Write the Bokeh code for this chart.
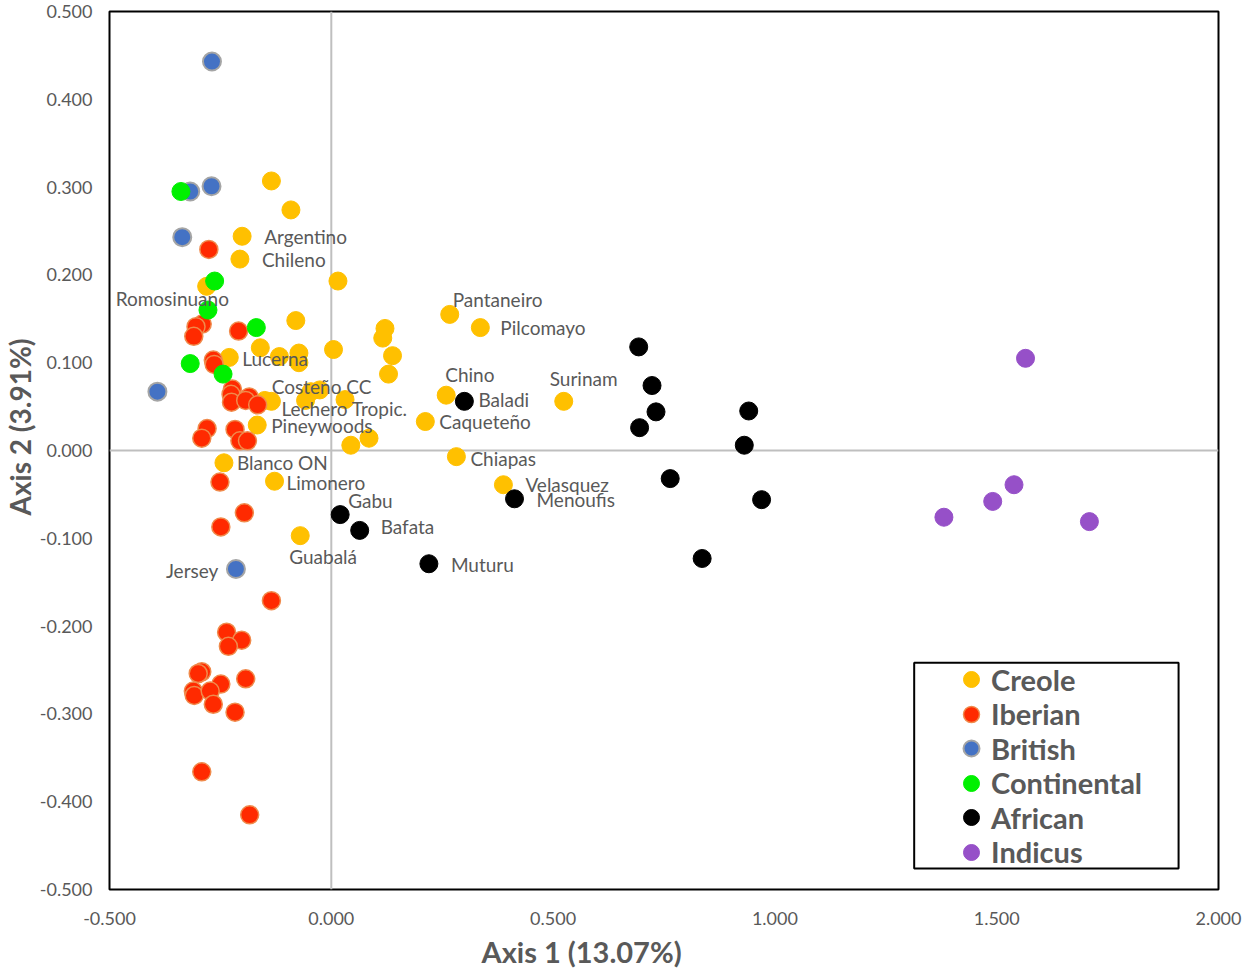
from bokeh.plotting import figure
from bokeh.models import (ColumnDataSource, Span, FixedTicker, PrintfTickFormatter,
                          Legend, LegendItem, BoxAnnotation, Title)
from bokeh.core.properties import value
from bokeh.embed import file_html
from bokeh.resources import INLINE

# ---------------- data ----------------
creole_x = [-0.135, -0.091, -0.201, -0.206, -0.281, 0.015, -0.080, 0.121, 0.116, -0.160,
            -0.117, -0.073, -0.073, 0.005, 0.138, 0.129, -0.230, -0.150, -0.135, -0.058,
            -0.046, -0.026, 0.031, -0.167, 0.085, 0.044, -0.242, -0.128, -0.070, 0.267,
            0.336, 0.259, 0.524, 0.212, 0.282, 0.388]
creole_y = [0.307, 0.274, 0.244, 0.218, 0.187, 0.193, 0.148, 0.139, 0.128, 0.117,
            0.107, 0.111, 0.100, 0.115, 0.108, 0.087, 0.106, 0.057, 0.056, 0.057,
            0.067, 0.069, 0.058, 0.029, 0.014, 0.006, -0.014, -0.035, -0.097, 0.155,
            0.140, 0.063, 0.056, 0.033, -0.007, -0.039]
creole_names = ["", "", "Argentino", "Chileno", "Romosinuano", "", "", "", "", "",
                "", "", "", "", "", "", "Lucerna", "Costeño CC", "Lechero Tropic.", "",
                "", "", "", "Pineywoods", "", "", "Blanco ON", "Limonero", "Guabalá", "Pantaneiro",
                "Pilcomayo", "Chino", "Surinam", "Caqueteño", "Chiapas", "Velasquez"]

iberian_x = [-0.276, -0.291, -0.305, -0.310, -0.209, -0.266, -0.264, -0.223, -0.226, -0.225,
             -0.185, -0.193, -0.166, -0.280, -0.292, -0.217, -0.206, -0.189, -0.251, -0.196,
             -0.249, -0.135, -0.236, -0.202, -0.232, -0.292, -0.300, -0.193, -0.249, -0.311,
             -0.309, -0.273, -0.266, -0.217, -0.292, -0.184]
iberian_y = [0.229, 0.144, 0.141, 0.130, 0.136, 0.103, 0.098, 0.070, 0.064, 0.055,
             0.061, 0.057, 0.052, 0.025, 0.014, 0.024, 0.011, 0.011, -0.036, -0.071,
             -0.087, -0.171, -0.207, -0.216, -0.223, -0.252, -0.254, -0.260, -0.266, -0.274,
             -0.279, -0.274, -0.289, -0.298, -0.366, -0.415]
iberian_names = [""] * len(iberian_x)

british_x = [-0.269, -0.270, -0.318, -0.336, -0.392, -0.215]
british_y = [0.443, 0.301, 0.295, 0.243, 0.067, -0.135]
british_names = ["", "", "", "", "", "Jersey"]

continental_x = [-0.339, -0.263, -0.278, -0.169, -0.318, -0.244]
continental_y = [0.295, 0.193, 0.160, 0.140, 0.099, 0.087]
continental_names = [""] * len(continental_x)

african_x = [0.300, 0.413, 0.020, 0.064, 0.220, 0.693, 0.723, 0.732, 0.695, 0.941,
             0.931, 0.764, 0.970, 0.836]
african_y = [0.056, -0.055, -0.073, -0.091, -0.129, 0.118, 0.074, 0.044, 0.026, 0.045,
             0.006, -0.032, -0.056, -0.123]
african_names = ["Baladi", "Menoufis", "Gabu", "Bafata", "Muturu", "", "", "", "", "",
                 "", "", "", ""]

indicus_x = [1.565, 1.381, 1.491, 1.539, 1.709]
indicus_y = [0.105, -0.076, -0.058, -0.039, -0.081]
indicus_names = [""] * len(indicus_x)

x_ticks = [-0.5, 0.0, 0.5, 1.0, 1.5, 2.0]
y_ticks = [-0.5, -0.4, -0.3, -0.2, -0.1, 0.0, 0.1, 0.2, 0.3, 0.4, 0.5]
x_title = "Axis 1 (13.07%)"
y_title = "Axis 2 (3.91%)"

# ---------------- styles ----------------
series = [
    ("Creole", creole_x, creole_y, creole_names, "#FFC000", "#FFC000", 1),
    ("Iberian", iberian_x, iberian_y, iberian_names, "#FF2A00", "#F08A4B", 1.5),
    ("British", british_x, british_y, british_names, "#4472C4", "#A5A5A5", 2),
    ("Continental", continental_x, continental_y, continental_names, "#00F000", "#00F000", 1),
    ("African", african_x, african_y, african_names, "#000000", "#000000", 1),
    ("Indicus", indicus_x, indicus_y, indicus_names, "#9650C8", "#9650C8", 1),
]

# label offsets in pixels (dx, dy), dy positive = down
label_offsets = {
    "Argentino": (22, 0), "Chileno": (22, 0), "Romosinuano": (-91, 12),
    "Lucerna": (13, 1), "Costeño CC": (7, -14), "Lechero Tropic.": (10, 7),
    "Pineywoods": (14, 0), "Blanco ON": (13, 0), "Limonero": (12, 1),
    "Gabu": (8, -14), "Bafata": (21, -4), "Guabalá": (-11, 21), "Jersey": (-70, 1),
    "Pantaneiro": (3, -15), "Pilcomayo": (20, 0), "Chino": (-1, -21),
    "Baladi": (14, -2), "Surinam": (-14, -23), "Caqueteño": (14, 0),
    "Chiapas": (14, 2), "Velasquez": (22, 0), "Menoufis": (22, 1), "Muturu": (22, 1),
}

GRAY = "#595959"
FONT = "Lato"
W, H = 1242, 973
B_LEFT, B_RIGHT, B_TOP, B_BOTTOM = 103, 24, 11, 82
FRAME_BOTTOM = 890          # measured frame bottom (px from top)
LEGEND_X = 842              # legend glyph box left, px from frame left
LEGEND_CENTERS = [680, 714.5, 749, 783.5, 818, 852.5]   # item centre rows (px from top)
GLYPH_W, GLYPH_H = 40, 42

p = figure(width=W, height=H, x_range=(-0.5, 2.0), y_range=(-0.5, 0.5),
           output_backend="svg", toolbar_location=None,
           min_border_left=B_LEFT, min_border_right=B_RIGHT,
           min_border_top=B_TOP, min_border_bottom=B_BOTTOM)
p.background_fill_color = "white"
p.border_fill_color = "white"
p.outline_line_color = "black"
p.outline_line_width = 2
p.grid.visible = False

for ax, ticks in ((p.xaxis[0], x_ticks), (p.yaxis[0], y_ticks)):
    ax.ticker = FixedTicker(ticks=ticks)
    ax.formatter = PrintfTickFormatter(format="%.3f")
    ax.major_tick_line_color = None
    ax.minor_tick_line_color = None
    ax.axis_line_color = None
    ax.major_label_text_font = FONT
    ax.major_label_text_font_size = "18px"
    ax.major_label_text_color = GRAY

p.xaxis.major_label_standoff = 16
p.yaxis.major_label_standoff = 11

# axis titles (placed as in the reference, not centred on the frame)
title_style = dict(align="left", text_font=FONT, text_font_style="bold", text_color=GRAY)
p.add_layout(Title(text=x_title, offset=372, standoff=9, text_font_size="29px",
                   **title_style), "below")
p.add_layout(Title(text=y_title, offset=374, standoff=0, text_font_size="28px",
                   **title_style), "left")

p.add_layout(Span(location=0, dimension="height", line_color="#BFBFBF", line_width=2, level="underlay"))
p.add_layout(Span(location=0, dimension="width", line_color="#BFBFBF", line_width=2, level="underlay"))

lab_x, lab_y, lab_t, lab_dx, lab_dy = [], [], [], [], []
renderers = []
for name, xs, ys, names, fill, line, lw in series:
    src = ColumnDataSource(dict(x=xs, y=ys))
    r = p.scatter("x", "y", source=src, size=18, marker="circle",
                  fill_color=fill, line_color=line, line_width=lw)
    renderers.append((name, r))
    for xv, yv, nm in zip(xs, ys, names):
        if nm:
            dx, dy = label_offsets[nm]
            lab_x.append(xv); lab_y.append(yv); lab_t.append(nm)
            lab_dx.append(dx); lab_dy.append(dy)

lsrc = ColumnDataSource(dict(x=lab_x, y=lab_y, t=lab_t, dx=lab_dx, dy=lab_dy))
p.text("x", "y", text="t", x_offset="dx", y_offset="dy", source=lsrc,
       text_font=value(FONT), text_font_size=value("19px"), text_color=GRAY,
       text_baseline="middle", text_align="left")

# one single-item legend per series so that the rows can be spaced tightly
for (name, r), cy in zip(renderers, LEGEND_CENTERS):
    lg = Legend(items=[LegendItem(label=name, renderers=[r])],
                location=(LEGEND_X, FRAME_BOTTOM - (cy + GLYPH_H / 2)),
                border_line_color=None, background_fill_alpha=0,
                glyph_width=GLYPH_W, glyph_height=GLYPH_H, label_standoff=0,
                label_text_font=FONT, label_text_font_size="29px",
                label_text_font_style="bold", label_text_color=GRAY)
    p.add_layout(lg)

p.add_layout(BoxAnnotation(left=1.314, right=1.910, top=-0.2418, bottom=-0.4762,
                           fill_color=None, fill_alpha=0, line_color="black",
                           line_alpha=1, line_width=2))

open("out.html", "w").write(file_html(p, INLINE))
